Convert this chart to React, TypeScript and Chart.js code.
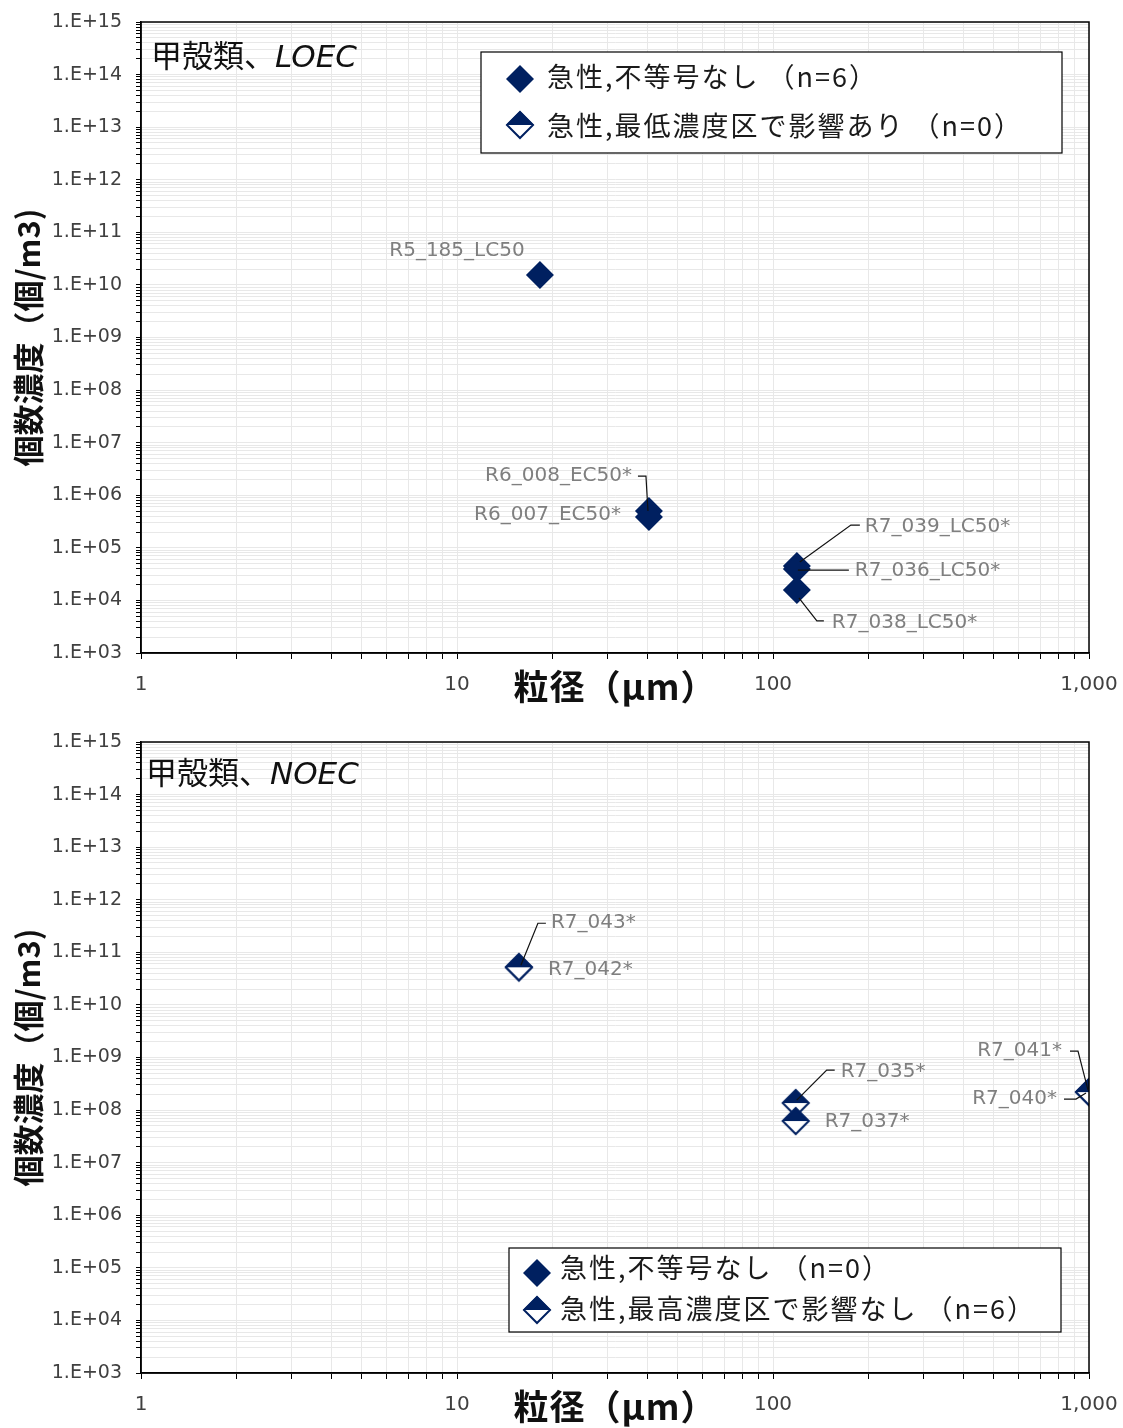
import React, { useEffect, useRef } from 'react';
import { Chart, registerables } from 'chart.js';

Chart.register(...registerables);

// ---------------- data ----------------
const X_TICK_LABELS = ['1', '10', '100', '1,000'];
const Y_TICK_LABELS = ['1.E+03', '1.E+04', '1.E+05', '1.E+06', '1.E+07', '1.E+08', '1.E+09', '1.E+10', '1.E+11', '1.E+12', '1.E+13', '1.E+14', '1.E+15'];

const X_AXIS_TITLE = '粒径（μm）';
const Y_AXIS_TITLE = '個数濃度（個/m3)';

// LOEC panel
const LOEC_SERIES_A = '急性,不等号なし （n=6）';
const LOEC_SERIES_B = '急性,最低濃度区で影響あり （n=0）';
const LOEC_LABELS = ['R5_185_LC50', 'R6_008_EC50*', 'R6_007_EC50*', 'R7_039_LC50*', 'R7_036_LC50*', 'R7_038_LC50*'];
const LOEC_SIZE = [18.3, 40.5, 40.5, 119, 119, 119];
const LOEC_CONC = [1.54e10, 5.0e5, 3.85e5, 4.5e4, 3.95e4, 1.58e4];
const LOEC_B_SIZE: number[] = [];
const LOEC_B_CONC: number[] = [];

// NOEC panel
const NOEC_SERIES_A = '急性,不等号なし （n=0）';
const NOEC_SERIES_B = '急性,最高濃度区で影響なし （n=6）';
const NOEC_A_SIZE: number[] = [];
const NOEC_A_CONC: number[] = [];
const NOEC_LABELS = ['R7_043*', 'R7_042*', 'R7_035*', 'R7_037*', 'R7_041*', 'R7_040*'];
const NOEC_SIZE = [15.7, 15.7, 118, 118, 1000, 1000];
const NOEC_CONC = [5.2e10, 5.2e10, 1.36e8, 6.2e7, 2.2e8, 2.2e8];

// ---------------- layout / style ----------------
const NAVY = '#002060';
const R = 14;
const CJK = '"Noto Sans CJK JP", "Noto Sans CJK SC", sans-serif';
const LAT = '"DejaVu Sans", Verdana, sans-serif';

type Lbl = { dx: number; dy: number; align: CanvasTextAlign; leader?: number[][] };

const LOEC_LABEL_LAYOUT: Lbl[] = [
  { dx: -83, dy: -24, align: 'center' },
  { dx: -17, dy: -35, align: 'right', leader: [[-11, -35], [-3, -35], [-1, 0]] },
  { dx: -28, dy: -2, align: 'right' },
  { dx: 68, dy: -39, align: 'left', leader: [[63, -41], [54, -41], [3, -4]] },
  { dx: 58, dy: 2, align: 'left', leader: [[52, 1], [1, 1]] },
  { dx: 35, dy: 33, align: 'left', leader: [[27, 31], [20, 31], [2, 8]] },
];

const NOEC_LABEL_LAYOUT: Lbl[] = [
  { dx: 32, dy: -44, align: 'left', leader: [[27, -44], [19, -44], [2, -2]] },
  { dx: 29, dy: 3, align: 'left' },
  { dx: 45, dy: -31, align: 'left', leader: [[39, -33], [31, -33], [1, -3]] },
  { dx: 29, dy: 1, align: 'left' },
  { dx: -27, dy: -41, align: 'right', leader: [[-19, -41], [-11, -41], [-1, -2]] },
  { dx: -32, dy: 7, align: 'right', leader: [[-25, 7], [-13, 7], [-3, 1]] },
];

function makeHalfDiamond(r: number): HTMLCanvasElement {
  const size = 2 * r + 4;
  const c = document.createElement('canvas');
  c.width = size;
  c.height = size;
  const ctx = c.getContext('2d')!;
  const cx = size / 2;
  const cy = size / 2;
  ctx.beginPath();
  ctx.moveTo(cx - r, cy);
  ctx.lineTo(cx, cy - r);
  ctx.lineTo(cx + r, cy);
  ctx.lineTo(cx, cy + r);
  ctx.closePath();
  ctx.fillStyle = '#ffffff';
  ctx.fill();
  ctx.beginPath();
  ctx.moveTo(cx - r, cy);
  ctx.lineTo(cx, cy - r);
  ctx.lineTo(cx + r, cy);
  ctx.closePath();
  ctx.fillStyle = NAVY;
  ctx.fill();
  ctx.beginPath();
  ctx.moveTo(cx - r + 1, cy);
  ctx.lineTo(cx, cy - r + 1);
  ctx.lineTo(cx + r - 1, cy);
  ctx.lineTo(cx, cy + r - 1);
  ctx.closePath();
  ctx.strokeStyle = NAVY;
  ctx.lineWidth = 2;
  ctx.stroke();
  return c;
}

function xTickValues(): number[] {
  const v: number[] = [];
  for (let e = 0; e < 3; e++) for (let m = 1; m <= 9; m++) v.push(m * Math.pow(10, e));
  v.push(1000);
  return v;
}
function yTickValues(): number[] {
  const v: number[] = [];
  for (let e = 3; e < 15; e++) for (let m = 1; m <= 9; m++) v.push(m * Math.pow(10, e));
  v.push(1e15);
  return v;
}
function decadeIndex(v: number, start: number): number {
  const l = Math.log10(v);
  const r = Math.round(l);
  if (Math.abs(l - r) < 1e-9) return r - start;
  return -1;
}

type LegendItem = { text: string; style: 'filled' | 'half'; mx: number; my: number; tx: number; ty: number };
type Spec = {
  height: number;
  title: string;
  titleItalic: string;
  titleX: number;
  titleY: number;
  seriesA: string;
  seriesB: string;
  aX: number[];
  aY: number[];
  bX: number[];
  bY: number[];
  labels: string[];
  labelX: number[];
  labelY: number[];
  labelLayout: Lbl[];
  legendBox: number[];
  legend: LegendItem[];
};

const LOEC_SPEC: Spec = {
  height: 720,
  title: '甲殻類、',
  titleItalic: 'LOEC',
  titleX: 151,
  titleY: 67,
  seriesA: LOEC_SERIES_A,
  seriesB: LOEC_SERIES_B,
  aX: LOEC_SIZE,
  aY: LOEC_CONC,
  bX: LOEC_B_SIZE,
  bY: LOEC_B_CONC,
  labels: LOEC_LABELS,
  labelX: LOEC_SIZE,
  labelY: LOEC_CONC,
  labelLayout: LOEC_LABEL_LAYOUT,
  legendBox: [481, 52, 1062, 153],
  legend: [
    { text: LOEC_SERIES_A, style: 'filled', mx: 520, my: 79, tx: 547, ty: 77 },
    { text: LOEC_SERIES_B, style: 'half', mx: 520, my: 125, tx: 547, ty: 126 },
  ],
};

const NOEC_SPEC: Spec = {
  height: 708,
  title: '甲殻類、',
  titleItalic: 'NOEC',
  titleX: 146,
  titleY: 64,
  seriesA: NOEC_SERIES_A,
  seriesB: NOEC_SERIES_B,
  aX: NOEC_A_SIZE,
  aY: NOEC_A_CONC,
  bX: NOEC_SIZE,
  bY: NOEC_CONC,
  labels: NOEC_LABELS,
  labelX: NOEC_SIZE,
  labelY: NOEC_CONC,
  labelLayout: NOEC_LABEL_LAYOUT,
  legendBox: [509, 528, 1061, 612],
  legend: [
    { text: NOEC_SERIES_A, style: 'filled', mx: 537, my: 553, tx: 560, ty: 548 },
    { text: NOEC_SERIES_B, style: 'half', mx: 537, my: 590, tx: 560, ty: 589 },
  ],
};

function diamondPath(ctx: CanvasRenderingContext2D, x: number, y: number, r: number) {
  ctx.beginPath();
  ctx.moveTo(x - r, y);
  ctx.lineTo(x, y - r);
  ctx.lineTo(x + r, y);
  ctx.lineTo(x, y + r);
  ctx.closePath();
}

function setSpacing(ctx: CanvasRenderingContext2D, px: number) {
  (ctx as any).letterSpacing = `${px}px`;
}

function buildChart(canvas: HTMLCanvasElement, spec: Spec) {
  const half = makeHalfDiamond(R);
  const xs = xTickValues();
  const ys = yTickValues();
  const overlay = {
    id: 'overlay',
    afterDraw(chart: any) {
      const ctx: CanvasRenderingContext2D = chart.ctx;
      const a = chart.chartArea;
      const sx = chart.scales.x;
      const sy = chart.scales.y;
      ctx.save();
      // plot frame
      ctx.strokeStyle = '#000';
      ctx.lineWidth = 1.5;
      ctx.strokeRect(a.left, a.top, a.right - a.left, a.bottom - a.top);

      // data labels + leaders
      ctx.font = `20px ${LAT}`;
      ctx.textBaseline = 'middle';
      spec.labels.forEach((t, i) => {
        const px = sx.getPixelForValue(spec.labelX[i]);
        const py = sy.getPixelForValue(spec.labelY[i]);
        const L = spec.labelLayout[i];
        if (L.leader) {
          ctx.beginPath();
          L.leader.forEach(([dx, dy], k) => {
            if (k === 0) ctx.moveTo(px + dx, py + dy);
            else ctx.lineTo(px + dx, py + dy);
          });
          ctx.strokeStyle = '#111';
          ctx.lineWidth = 1.2;
          ctx.stroke();
        }
        ctx.fillStyle = '#7f7f7f';
        ctx.textAlign = L.align;
        ctx.fillText(t, px + L.dx, py + L.dy);
      });

      // title
      ctx.textAlign = 'left';
      ctx.textBaseline = 'alphabetic';
      ctx.fillStyle = '#111';
      ctx.font = `31px ${CJK}`;
      ctx.fillText(spec.title, spec.titleX, spec.titleY);
      const w = ctx.measureText(spec.title).width;
      ctx.font = `italic 31px ${LAT}`;
      ctx.fillText(spec.titleItalic, spec.titleX + w, spec.titleY);

      // legend box
      const [x1, y1, x2, y2] = spec.legendBox;
      ctx.fillStyle = '#fff';
      ctx.fillRect(x1, y1, x2 - x1, y2 - y1);
      ctx.strokeStyle = '#000';
      ctx.lineWidth = 1.2;
      ctx.strokeRect(x1, y1, x2 - x1, y2 - y1);
      ctx.font = `27px ${CJK}`;
      ctx.textBaseline = 'middle';
      setSpacing(ctx, 2);
      spec.legend.forEach((it) => {
        if (it.style === 'filled') {
          diamondPath(ctx, it.mx, it.my, R);
          ctx.fillStyle = NAVY;
          ctx.fill();
        } else {
          ctx.drawImage(half, it.mx - half.width / 2, it.my - half.height / 2);
        }
        ctx.fillStyle = '#1a1a1a';
        ctx.fillText(it.text, it.tx, it.ty);
      });

      // axis titles
      ctx.fillStyle = '#111';
      ctx.font = `bold 35px ${CJK}`;
      setSpacing(ctx, 1);
      ctx.textAlign = 'center';
      ctx.fillText(X_AXIS_TITLE, 615, a.bottom + 34);
      setSpacing(ctx, 0);
      ctx.save();
      ctx.translate(28, (a.top + a.bottom) / 2);
      ctx.rotate(-Math.PI / 2);
      ctx.font = `bold 31px ${CJK}`;
      ctx.fillText(Y_AXIS_TITLE, 0, 0);
      ctx.restore();
      ctx.restore();
    },
  };

  const pts = (xv: number[], yv: number[]) => xv.map((x, i) => ({ x, y: yv[i] }));

  return new Chart(canvas, {
    type: 'scatter',
    data: {
      datasets: [
        {
          label: spec.seriesA,
          data: pts(spec.aX, spec.aY),
          pointStyle: 'rectRot',
          pointRadius: R,
          pointHoverRadius: R,
          backgroundColor: NAVY,
          borderColor: NAVY,
          borderWidth: 0,
        },
        {
          label: spec.seriesB,
          data: pts(spec.bX, spec.bY),
          pointStyle: half as any,
          pointRadius: R,
          pointHoverRadius: R,
          backgroundColor: NAVY,
          borderColor: NAVY,
        },
      ],
    },
    options: {
      responsive: false,
      animation: false,
      events: [],
      layout: { padding: { left: 0, right: 34, top: 22, bottom: 0 } },
      plugins: { legend: { display: false }, tooltip: { enabled: false } },
      scales: {
        x: {
          type: 'logarithmic',
          min: 1,
          max: 1000,
          afterBuildTicks: (axis: any) => {
            axis.ticks = xs.map((v) => ({ value: v }));
          },
          afterFit: (s: any) => {
            s.height = spec.height - 653;
            s.paddingLeft = 0;
            s.paddingRight = 0;
          },
          ticks: {
            autoSkip: false,
            maxRotation: 0,
            minRotation: 0,
            padding: 14,
            color: '#404040',
            font: { family: LAT, size: 20 },
            callback: (v: any) => {
              const d = decadeIndex(Number(v), 0);
              return d >= 0 ? X_TICK_LABELS[d] : '';
            },
          },
          grid: { color: '#e8e8e8', tickColor: '#000', tickLength: 6, lineWidth: 1 },
          border: { color: '#000', width: 1.5 },
        },
        y: {
          type: 'logarithmic',
          min: 1e3,
          max: 1e15,
          afterBuildTicks: (axis: any) => {
            axis.ticks = ys.map((v) => ({ value: v }));
          },
          afterFit: (s: any) => {
            s.width = 141;
            s.paddingTop = 0;
            s.paddingBottom = 0;
          },
          ticks: {
            autoSkip: false,
            padding: 14,
            color: '#404040',
            font: { family: LAT, size: 19 },
            callback: (v: any) => {
              const d = decadeIndex(Number(v), 3);
              return d >= 0 ? Y_TICK_LABELS[d] : '';
            },
          },
          grid: { color: '#e8e8e8', tickColor: '#000', tickLength: 5, lineWidth: 1 },
          border: { color: '#000', width: 1.5 },
        },
      },
    } as any,
    plugins: [overlay],
  });
}

function Panel({ spec, top }: { spec: Spec; top: number }) {
  const ref = useRef<HTMLCanvasElement>(null);
  useEffect(() => {
    const chart = buildChart(ref.current!, spec);
    return () => chart.destroy();
  }, [spec]);
  return (
    <canvas
      ref={ref}
      width={1123}
      height={spec.height}
      style={{ position: 'absolute', left: 0, top, width: 1123, height: spec.height, display: 'block' }}
    />
  );
}

export default function App() {
  return (
    <div style={{ position: 'absolute', left: 0, top: 0, width: 1123, height: 1428, overflow: 'hidden', background: '#fff' }}>
      <Panel spec={LOEC_SPEC} top={0} />
      <Panel spec={NOEC_SPEC} top={720} />
    </div>
  );
}
